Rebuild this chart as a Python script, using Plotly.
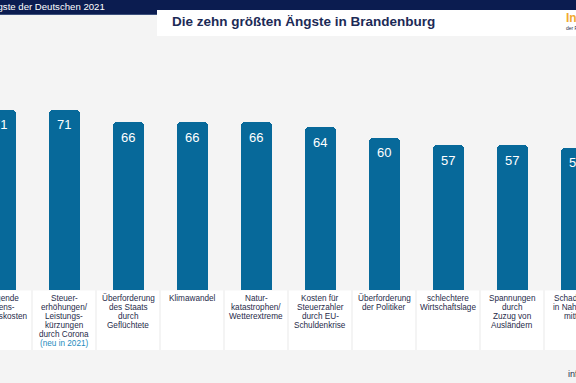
import plotly.graph_objects as go

# ---- data ----
categories = [
    "Steigende<br>Lebens-<br>haltungskosten",
    "Steuer-<br>erhöhungen/<br>Leistungs-<br>kürzungen<br>durch Corona<br>(neu in 2021)",
    "Überforderung<br>des Staats<br>durch<br>Geflüchtete",
    "Klimawandel",
    "Natur-<br>katastrophen/<br>Wetterextreme",
    "Kosten für<br>Steuerzahler<br>durch EU-<br>Schuldenkrise",
    "Überforderung<br>der Politiker",
    "schlechtere<br>Wirtschaftslage",
    "Spannungen<br>durch<br>Zuzug von<br>Ausländern",
    "Schadstoffe<br>in Nahrungs-<br>mitteln",
]
values = [71, 71, 66, 66, 66, 64, 60, 57, 57, 56]
header_text = "Die größten Ängste der Deutschen 2021"
title_text = "Die zehn größten Ängste in Brandenburg"

# ---- geometry helpers ----
W, H = 576, 383
PX_PER_UNIT = 2.54          # vertical pixels per percentage point
BASE_PX = 290               # pixel row of the bar baseline
y_hi = BASE_PX / PX_PER_UNIT
y_lo = -(H - BASE_PX) / PX_PER_UNIT

def py(p):  # pixel offset below the baseline -> data y
    return -p / PX_PER_UNIT

def paper_y(p):  # pixel row from top -> paper y
    return 1 - p / H

BAR = "#07699a"
NAVY = "#0b1c50"
TEXT = "#1f2b4a"
x = list(range(len(values)))

fig = go.Figure()
fig.add_trace(go.Bar(
    x=x, y=values, width=31 / 64, marker=dict(color=BAR, cornerradius=4, line=dict(width=0)),
    hoverinfo="skip", showlegend=False,
))

shapes = []
annotations = []

# label boxes + category text
for i, lab in enumerate(categories):
    shapes.append(dict(type="rect", xref="x", yref="y", x0=i - 31 / 64, x1=i + 31 / 64,
                       y0=py(60), y1=py(0.5), fillcolor="white", line=dict(width=0), layer="below"))
    for j, line in enumerate(lab.split("<br>")):
        col = "#1e8bbd" if line.startswith("(neu") else TEXT
        annotations.append(dict(x=i, y=py(8 + 9 * j), xref="x", yref="y", text=line, showarrow=False,
                                font=dict(family="Liberation Sans, Arial", size=8.2, color=col),
                                xanchor="center", yanchor="middle"))

# value labels
for i, v in enumerate(values):
    annotations.append(dict(x=i, y=v, xref="x", yref="y", text=str(v), showarrow=False, yshift=-15,
                            font=dict(family="Liberation Sans, Arial", size=13, color="white"),
                            xanchor="center", yanchor="middle"))

# header band
shapes.append(dict(type="rect", xref="paper", yref="paper", x0=0, x1=1, y0=paper_y(14), y1=1,
                   fillcolor=NAVY, line=dict(width=0), layer="above"))
shapes.append(dict(type="rect", xref="paper", yref="paper", x0=0, x1=1, y0=paper_y(15), y1=paper_y(14),
                   fillcolor="#3b4f7c", line=dict(width=0), layer="above"))
shapes.append(dict(type="rect", xref="paper", yref="paper", x0=157 / W, x1=1, y0=paper_y(36), y1=paper_y(10),
                   fillcolor="white", line=dict(width=0), layer="above"))

annotations.append(dict(x=107 / W, y=paper_y(7), xref="paper", yref="paper", text=header_text,
                        showarrow=False, xanchor="right", yanchor="middle",
                        font=dict(family="Liberation Sans, Arial", size=9.6, color="white")))
annotations.append(dict(x=170 / W, y=paper_y(22), xref="paper", yref="paper", text="<b>" + title_text + "</b>",
                        showarrow=False, xanchor="left", yanchor="middle",
                        font=dict(family="Liberation Sans, Arial", size=13.5, color="#1c2a56")))
annotations.append(dict(x=564 / W, y=paper_y(18), xref="paper", yref="paper", text="<b>Infocenter</b>",
                        showarrow=False, xanchor="left", yanchor="middle",
                        font=dict(family="Liberation Sans, Arial", size=12, color="#f2a930")))
annotations.append(dict(x=564 / W, y=paper_y(28), xref="paper", yref="paper", text="der R+V Versicherung",
                        showarrow=False, xanchor="left", yanchor="middle",
                        font=dict(family="Liberation Sans, Arial", size=5, color=TEXT)))
annotations.append(dict(x=566 / W, y=paper_y(374), xref="paper", yref="paper", text="infocenter",
                        showarrow=False, xanchor="left", yanchor="middle",
                        font=dict(family="Liberation Sans, Arial", size=9, color=TEXT)))

fig.update_layout(
    width=W, height=H, autosize=False,
    margin=dict(l=0, r=0, t=0, b=0, pad=0),
    paper_bgcolor="#f4f4f4", plot_bgcolor="#f4f4f4",
    xaxis=dict(range=[0, 9], visible=False, fixedrange=True),
    yaxis=dict(range=[y_lo, y_hi], visible=False, fixedrange=True),
    shapes=shapes, annotations=annotations, bargap=0,
)

fig.write_html("out.html", config={"displayModeBar": False},
               post_script="document.body.style.margin='0';")
